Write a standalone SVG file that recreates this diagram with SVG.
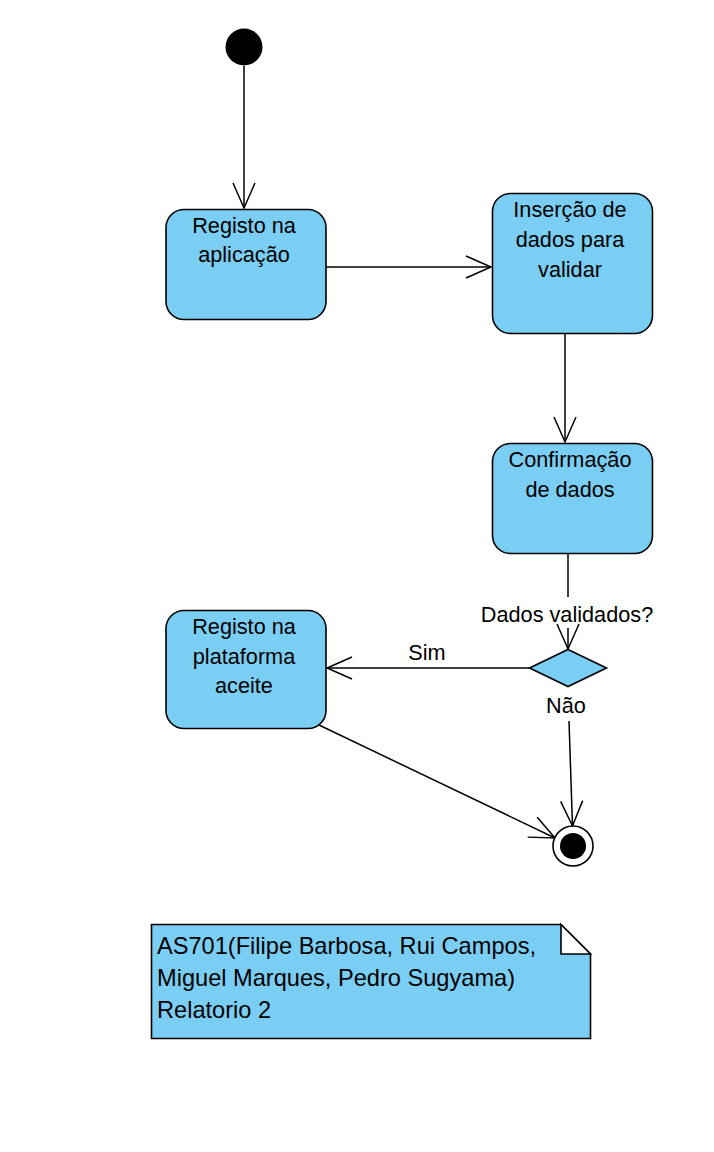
<svg xmlns="http://www.w3.org/2000/svg" width="714" height="1152" viewBox="0 0 714 1152">
<style>
.state{fill:#7ACEF4;stroke:#000;stroke-width:1.6}
.lbl{font-family:"Liberation Sans",Arial,sans-serif;font-size:21.7px;fill:#000;text-anchor:middle}
.note{font-family:"Liberation Sans",Arial,sans-serif;font-size:23.6px;fill:#000}
.conn{fill:none;stroke:#000;stroke-width:1.5}
</style>
<defs>
<marker id="arr" markerUnits="userSpaceOnUse" markerWidth="40" markerHeight="40" refX="0" refY="0" viewBox="-30 -20 40 40" orient="auto">
<path d="M-25,-11 L0,0 L-25,11" fill="none" stroke="#000" stroke-width="1.5"/>
</marker>
</defs>
<rect width="714" height="1152" fill="#fff"/>
<g id="connectors">
<line class="conn" x1="244" y1="66" x2="244" y2="208" marker-end="url(#arr)"/>
<line class="conn" x1="326" y1="267" x2="491" y2="267" marker-end="url(#arr)"/>
<line class="conn" x1="565" y1="333" x2="565" y2="442" marker-end="url(#arr)"/>
<line class="conn" x1="568" y1="553" x2="568" y2="597"/>
<line class="conn" x1="568" y1="628" x2="568" y2="649" marker-end="url(#arr)"/>
<line class="conn" x1="529" y1="668" x2="327" y2="668" marker-end="url(#arr)"/>
<text class="lbl" x="567" y="622">Dados validados?</text>
<text class="lbl" x="427" y="660">Sim</text>
<text class="lbl" x="566" y="713">Não</text>
<line class="conn" x1="569" y1="721" x2="572.5" y2="826" marker-end="url(#arr)"/>
<line class="conn" x1="319" y1="725" x2="555" y2="838" marker-end="url(#arr)"/>
</g>
<g id="initial"><circle cx="244" cy="47" r="18.5" fill="#000"/></g>
<g id="registo-aplicacao">
<rect class="state" x="166" y="209.5" width="160" height="110" rx="18"/>
<text class="lbl" x="244" y="233">Registo na</text>
<text class="lbl" x="244" y="262">aplicação</text>
</g>
<g id="insercao-dados">
<rect class="state" x="492.5" y="193.5" width="160" height="140" rx="18"/>
<text class="lbl" x="570" y="217">Inserção de</text>
<text class="lbl" x="570" y="247">dados para</text>
<text class="lbl" x="570" y="277">validar</text>
</g>
<g id="confirmacao-dados">
<rect class="state" x="492.5" y="443.5" width="160" height="110" rx="18"/>
<text class="lbl" x="570" y="467">Confirmação</text>
<text class="lbl" x="570" y="497">de dados</text>
</g>
<g id="decisao">
<polygon class="state" points="568,649.5 606.5,668 568,686.5 529.5,668"/>
</g>
<g id="registo-plataforma">
<rect class="state" x="166" y="610.5" width="160" height="118" rx="18"/>
<text class="lbl" x="244" y="634">Registo na</text>
<text class="lbl" x="244" y="664">plataforma</text>
<text class="lbl" x="244" y="693">aceite</text>
</g>
<g id="final">
<circle cx="573" cy="846" r="20" fill="#fff" stroke="#000" stroke-width="1.6"/>
<circle cx="573" cy="846" r="13" fill="#000"/>
</g>
<g id="nota">
<path class="state" d="M151.5,924.5 H561 L590.5,954 V1038.5 H151.5 Z"/>
<path d="M561,924.5 L590.5,954 H561 Z" fill="#fff" stroke="#000" stroke-width="1.6" stroke-linejoin="miter"/>
<text class="note" x="157" y="954">AS701(Filipe Barbosa, Rui Campos,</text>
<text class="note" x="157" y="986">Miguel Marques, Pedro Sugyama)</text>
<text class="note" x="157" y="1018">Relatorio 2</text>
</g>
</svg>
